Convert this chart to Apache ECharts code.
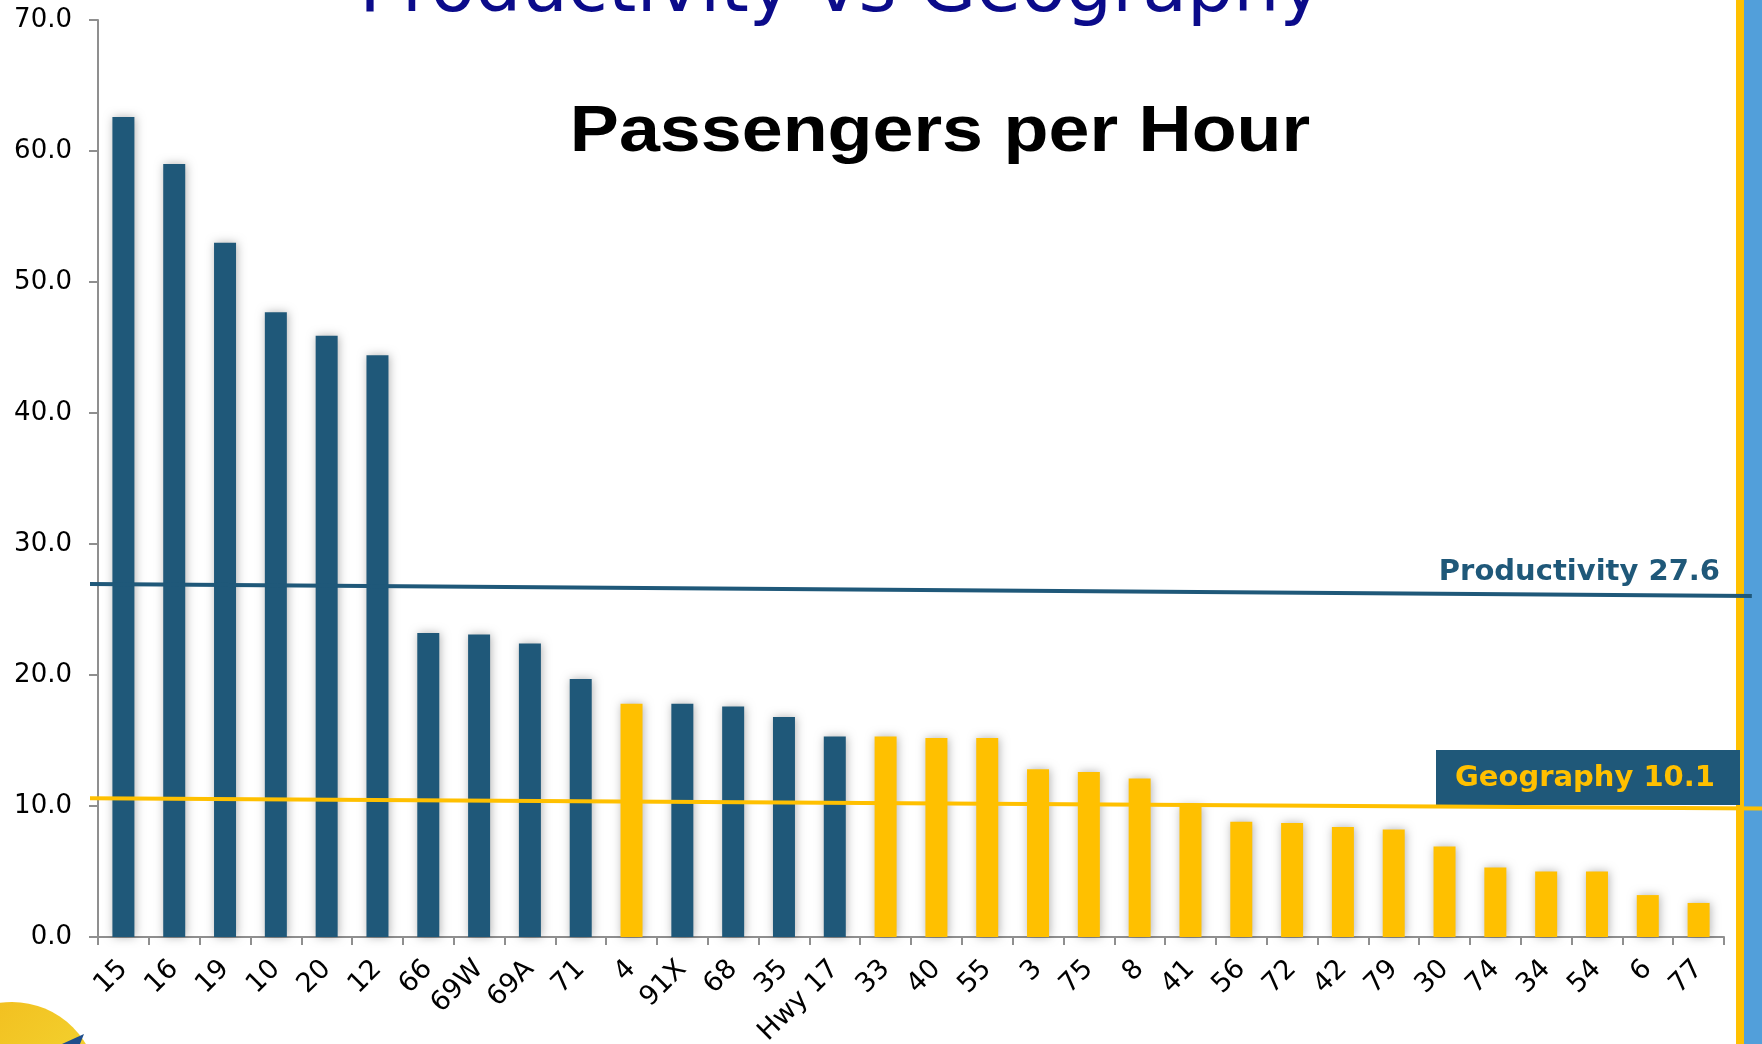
<!DOCTYPE html>
<html>
<head>
<meta charset="utf-8">
<script src="https://cdn.jsdelivr.net/npm/echarts@6/dist/echarts.min.js"></script>
<style>
html,body{margin:0;padding:0;background:#fff;}
#chart{width:1762px;height:1044px;}
</style>
</head>
<body>
<div id="chart"></div>
<script>
// ---- data ----
var categories = ['15','16','19','10','20','12','66','69W','69A','71','4','91X','68','35','Hwy 17','33','40','55','3','75','8','41','56','72','42','79','30','74','34','54','6','77'];
var passengersPerHour = [62.6,59.0,53.0,47.7,45.9,44.4,23.2,23.1,22.4,19.7,17.8,17.8,17.6,16.8,15.3,15.3,15.2,15.2,12.8,12.6,12.1,10.0,8.8,8.7,8.4,8.2,6.9,5.3,5.0,5.0,3.2,2.6];
// 'P' = productivity group (blue), 'G' = geography group (yellow)
var groups = ['P','P','P','P','P','P','P','P','P','P','G','P','P','P','P','G','G','G','G','G','G','G','G','G','G','G','G','G','G','G','G','G'];
var yTicks = [0,10,20,30,40,50,60,70];
// trend lines, x in category units (0 = left edge of first category)
var productivityLine = [[-0.16, 26.95],[32.55, 26.03]];
var geographyLine = [[-0.16, 10.6],[32.75, 9.8]];
var productivityLabel = 'Productivity 27.6';
var geographyLabel = 'Geography 10.1';

var BLUE = '#1F5879', YELLOW = '#FFC000';

var chart = echarts.init(document.getElementById('chart'));
var option = {
  animation: false,
  backgroundColor: '#ffffff',
  grid: [
    {left: 98, right: 38, top: 20, bottom: 107, containLabel: false, outerBoundsMode: 'none'},
    // overlay grid for the trend lines, extending past the plot area (same scale)
    {left: 90, right: 0, top: 20, bottom: 107, containLabel: false, outerBoundsMode: 'none'}
  ],
  xAxis: [{
    type: 'category',
    gridIndex: 0,
    data: categories,
    boundaryGap: true,
    axisLine: {lineStyle: {color: '#8f8f8f', width: 2}},
    axisTick: {show: true, length: 8, lineStyle: {color: '#8f8f8f', width: 2}},
    axisLabel: {interval: 0, rotate: 45, margin: 28, color: '#000', fontSize: 27, fontFamily: 'DejaVu Sans'}
  }, {
    type: 'value', gridIndex: 1, min: -0.16, max: 32.75, show: false
  }],
  yAxis: [{
    type: 'value', gridIndex: 0, min: yTicks[0], max: yTicks[yTicks.length-1], interval: 10,
    axisLine: {show: true, lineStyle: {color: '#8f8f8f', width: 2}},
    axisTick: {show: true, length: 9, lineStyle: {color: '#8f8f8f', width: 2}},
    splitLine: {show: false},
    axisLabel: {margin: 26, color: '#000', fontSize: 26, fontFamily: 'DejaVu Sans',
      formatter: function(v){ return v.toFixed(1); }}
  }, {
    type: 'value', gridIndex: 1, min: yTicks[0], max: yTicks[yTicks.length-1], show: false
  }],
  series: [{
    type: 'bar',
    data: passengersPerHour.map(function(v, i){
      return {value: v, itemStyle: {color: groups[i] === 'P' ? BLUE : YELLOW}};
    }),
    barWidth: 22,
    itemStyle: {shadowBlur: 10, shadowColor: 'rgba(0,0,0,0.3)', shadowOffsetX: 1},
    z: 2
  }, {
    type: 'line', xAxisIndex: 1, yAxisIndex: 1, data: productivityLine,
    symbol: 'none', lineStyle: {color: BLUE, width: 4}, z: 4
  }, {
    type: 'line', xAxisIndex: 1, yAxisIndex: 1, data: geographyLine,
    symbol: 'none', lineStyle: {color: YELLOW, width: 4}, z: 4
  }],
  graphic: [
    {type: 'rect', shape: {x: 1736, y: 0, width: 8, height: 1044}, style: {fill: YELLOW}, z: 0},
    {type: 'rect', shape: {x: 1744, y: 0, width: 18, height: 1044}, style: {fill: '#529FDA'}, z: 0},
    {type: 'text', x: 841, y: -8, style: {text: 'Productivity vs Geography', fill: '#0B0B8A',
      font: '73px "DejaVu Sans"', textAlign: 'center', textVerticalAlign: 'middle'}, z: 10},
    {type: 'text', x: 940, y: 133, scaleX: 1.15, style: {text: 'Passengers per Hour', fill: '#000',
      font: 'bold 64px "Liberation Sans"', textAlign: 'center', textVerticalAlign: 'middle'}, z: 10},
    {type: 'text', x: 1720, y: 572, style: {text: productivityLabel, fill: BLUE,
      font: 'bold 29px "DejaVu Sans"', textAlign: 'right', textVerticalAlign: 'middle'}, z: 10},
    {type: 'rect', shape: {x: 1436, y: 750, width: 304, height: 55}, style: {fill: BLUE}, z: 1},
    {type: 'text', x: 1585, y: 778, style: {text: geographyLabel, fill: YELLOW,
      font: 'bold 29px "DejaVu Sans"', textAlign: 'center', textVerticalAlign: 'middle'}, z: 10},
    {type: 'circle', shape: {cx: 12, cy: 1088, r: 86}, style: {
      fill: new echarts.graphic.LinearGradient(0, 0, 1, 1, [{offset: 0, color: '#F2B81A'}, {offset: 1, color: '#F3E03A'}])}, z: 1},
    {type: 'polygon', shape: {points: [[62,1044],[84,1034],[80,1044]]}, style: {fill: '#1F4E8C'}, z: 2}
  ]
};
chart.setOption(option);
</script>
</body>
</html>
